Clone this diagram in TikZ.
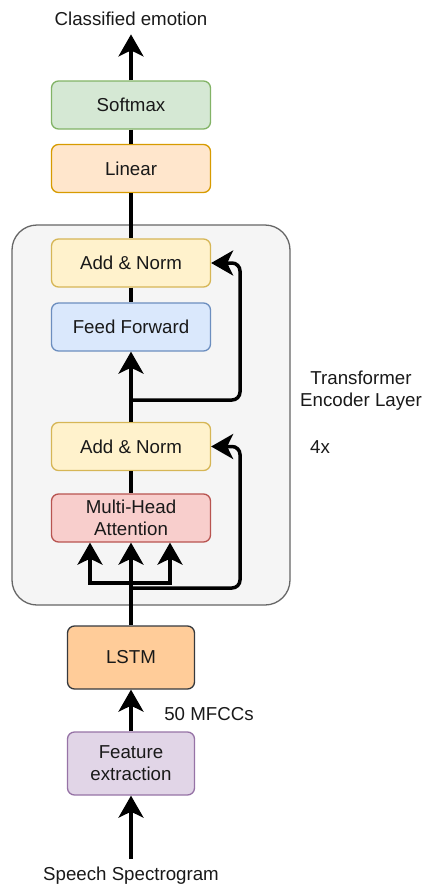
\documentclass[tikz,border=0pt]{standalone}
\usepackage{fontspec}
\setmainfont{Liberation Sans}
\usetikzlibrary{arrows.meta,positioning,calc}
\definecolor{grnfill}{HTML}{D5E8D4}\definecolor{grnline}{HTML}{82B366}
\definecolor{orgfill}{HTML}{FFE6CC}\definecolor{orgline}{HTML}{D79B00}
\definecolor{ylwfill}{HTML}{FFF2CC}\definecolor{ylwline}{HTML}{D6B656}
\definecolor{blufill}{HTML}{DAE8FC}\definecolor{bluline}{HTML}{6C8EBF}
\definecolor{redfill}{HTML}{F8CECC}\definecolor{redline}{HTML}{B85450}
\definecolor{prpfill}{HTML}{E1D5E7}\definecolor{prpline}{HTML}{9673A6}
\definecolor{lstmfill}{HTML}{FFCC99}\definecolor{lstmline}{HTML}{36393D}
\definecolor{encfill}{HTML}{F5F5F5}\definecolor{encline}{HTML}{666666}
\newcommand{\dfont}{\fontsize{18.7}{22}\selectfont}

\begin{document}
\begin{tikzpicture}[x=1pt, y=-1pt,
    box/.style={rectangle, rounded corners=7pt, line width=1.3pt, minimum width=159pt,
                minimum height=48pt, align=center, font=\dfont, text=black!90},
    smallbox/.style={box, minimum width=127pt, minimum height=63pt},
    lbl/.style={font=\dfont, text=black!90, align=center},
    line/.style={line width=3.5pt, black},
    arr/.style={line, -{Stealth[length=22pt, width=25pt, inset=6pt]}}
]
\useasboundingbox (0,0) rectangle (423,886);

% encoder layer
\draw[fill=encfill, draw=encline, line width=1.3pt, rounded corners=25pt] (12,225) rectangle (290,605);

\node[box, fill=grnfill, draw=grnline] (softmax) at (131,105) {Softmax};
\node[box, fill=orgfill, draw=orgline] (linear) at (131,168.5) {Linear};
\node[box, fill=ylwfill, draw=ylwline] (add1) at (131,263) {Add \& Norm};
\node[box, fill=blufill, draw=bluline] (ff) at (131,327) {Feed Forward};
\node[box, fill=ylwfill, draw=ylwline] (add2) at (131,446.5) {Add \& Norm};
\node[box, fill=redfill, draw=redline] (mha) at (131,518) {Multi-Head\\Attention};
\node[smallbox, fill=lstmfill, draw=lstmline] (lstm) at (131,657.5) {LSTM};
\node[smallbox, fill=prpfill, draw=prpline] (feat) at (131,763.5) {Feature\\extraction};

\node[lbl] (emo) at (131,19) {Classified emotion};
\node[lbl] (spec) at (131,876) {Speech Spectrogram};
\node[lbl] (mfcc) at (209,714) {50 MFCCs};
\node[lbl] (enc) at (361,391) {Transformer\\Encoder Layer};
\node[lbl] (rep) at (320,447) {4x};

\coordinate (res1) at (131,400);
\coordinate (split) at (131,583);
\coordinate (res2) at (131,588);

\draw[line] (softmax) -- (linear);
\draw[line] (linear) -- (add1);
\draw[line] (add1) -- (ff);
\draw[line] (add2) -- (mha);
\draw[arr] (softmax) -- ([yshift=-5pt]emo.south);
\draw[arr] (add2) -- (ff);
\draw[arr, rounded corners=8pt] (res1) -- ++(109,0) |- (add1.east);
\draw[arr, rounded corners=8pt] (res2) -- ++(109,0) |- (add2.east);
\draw[arr] (lstm) -- (mha);
\draw[arr] (split) -| ([xshift=-41pt]mha.south);
\draw[arr] (split) -| ([xshift=39pt]mha.south);
\draw[arr] (feat) -- (lstm);
\draw[arr] ([yshift=5pt]spec.north) -- (feat);
\end{tikzpicture}
\end{document}
